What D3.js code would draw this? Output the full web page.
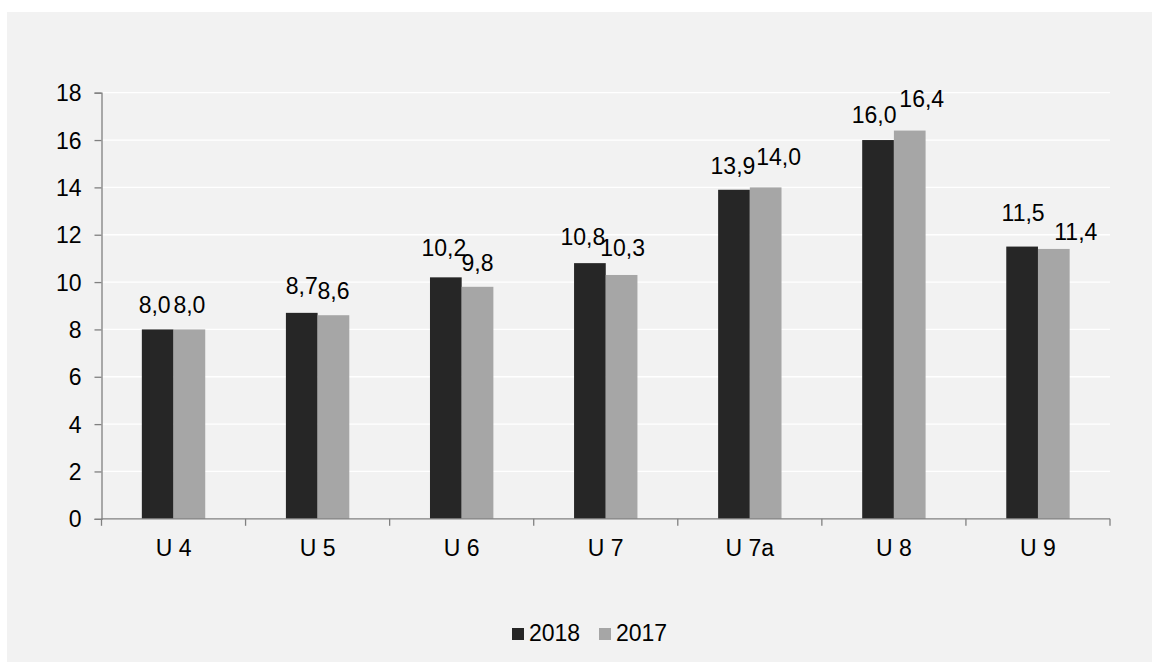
<!DOCTYPE html>
<html>
<head>
<meta charset="utf-8">
<script src="https://cdn.jsdelivr.net/npm/d3@7"></script>
<style>
  html, body { margin: 0; padding: 0; background: #ffffff; }
  svg { display: block; }
  text { font-family: "Liberation Sans", Arial, sans-serif; fill: #000; }
</style>
</head>
<body>
<script>
// Categories (school grades) and values per year
const categories = ["U 4", "U 5", "U 6", "U 7", "U 7a", "U 8", "U 9"];
const seriesNames = ["2018", "2017"];
const values2018 = [8.0, 8.7, 10.2, 10.8, 13.9, 16.0, 11.5];
const values2017 = [8.0, 8.6, 9.8, 10.3, 14.0, 16.4, 11.4];
const yTicks = [0, 2, 4, 6, 8, 10, 12, 14, 16, 18];

// Label nudges (px) so that neighbouring value labels do not collide
const labelNudge2018 = [[-3, 0], [0, -2.5], [-2, -5], [-7, -2], [-1, 0], [-4, -1], [1, -10]];
const labelNudge2017 = [[0, 0], [0, 0], [0, 0], [1, -3], [13, -6], [12, -8], [22, 7]];

const W = 1152, H = 662;
const plot = { left: 101.5, right: 1110, top: 92.7, bottom: 518.8 };
const colors = ["#262626", "#a6a6a6"];
const fontSize = 23;

const svg = d3.select("body").append("svg")
  .attr("width", W).attr("height", H);

// panel background
svg.append("rect").attr("x", 7).attr("y", 12)
  .attr("width", W - 7).attr("height", H - 12).attr("fill", "#f2f2f2");

const x = d3.scaleBand().domain(categories).range([plot.left, plot.right]).paddingInner(0).paddingOuter(0);
const barW = x.bandwidth() * 0.22;
const xs = d3.scaleBand().domain(seriesNames).range([x.bandwidth() / 2 - barW, x.bandwidth() / 2 + barW]);
const y = d3.scaleLinear().domain([0, 18]).range([plot.bottom, plot.top]);

// gridlines
svg.append("g").selectAll("line").data(yTicks.filter(t => t > 0)).join("line")
  .attr("x1", plot.left).attr("x2", plot.right)
  .attr("y1", d => y(d)).attr("y2", d => y(d))
  .attr("stroke", "#ffffff").attr("stroke-width", 1.3);

// bars
const series = [values2018, values2017];
const nudges = [labelNudge2018, labelNudge2017];
series.forEach((vals, si) => {
  const g = svg.append("g");
  g.selectAll("rect").data(vals).join("rect")
    .attr("x", (d, i) => x(categories[i]) + xs(seriesNames[si]))
    .attr("width", xs.bandwidth())
    .attr("y", d => y(d))
    .attr("height", d => y(0) - y(d))
    .attr("fill", colors[si]);
  g.selectAll("text").data(vals).join("text")
    .attr("x", (d, i) => x(categories[i]) + xs(seriesNames[si]) + xs.bandwidth() / 2 + nudges[si][i][0])
    .attr("y", (d, i) => y(d) - 16 + nudges[si][i][1])
    .attr("text-anchor", "middle")
    .attr("font-size", fontSize)
    .text(d => d.toFixed(1).replace(".", ","));
});

// y axis
const yAxis = d3.axisLeft(y).tickValues(yTicks).tickSize(7).tickPadding(13).tickFormat(d3.format("d"));
const gy = svg.append("g").attr("transform", `translate(${plot.left},0)`).call(yAxis);
gy.select(".domain").attr("stroke", "#808080").attr("stroke-width", 1.3);
gy.selectAll(".tick line").attr("stroke", "#808080").attr("stroke-width", 1.3);
gy.selectAll(".tick text").attr("font-size", fontSize).attr("font-family", "Liberation Sans, Arial, sans-serif").attr("fill", "#000").attr("dy", "0.35em");

// x axis: line with ticks at category boundaries
const gx = svg.append("g");
gx.append("line").attr("x1", plot.left).attr("x2", plot.right)
  .attr("y1", y(0)).attr("y2", y(0))
  .attr("stroke", "#808080").attr("stroke-width", 1.3);
const bounds = categories.map(c => x(c)).concat([plot.right]);
gx.selectAll("line.tk").data(bounds).join("line").attr("class", "tk")
  .attr("x1", d => d).attr("x2", d => d)
  .attr("y1", y(0)).attr("y2", y(0) + 7)
  .attr("stroke", "#808080").attr("stroke-width", 1.3);
gx.selectAll("text").data(categories).join("text")
  .attr("x", d => x(d) + x.bandwidth() / 2)
  .attr("y", 555.7)
  .attr("text-anchor", "middle")
  .attr("font-size", fontSize)
  .text(d => d);

// legend
const legend = svg.append("g");
const legendX = [512, 599];
seriesNames.forEach((name, i) => {
  legend.append("rect").attr("x", legendX[i]).attr("y", 628)
    .attr("width", 12).attr("height", 12).attr("fill", colors[i]);
  legend.append("text").attr("x", legendX[i] + 17).attr("y", 640.5)
    .attr("font-size", fontSize).text(name);
});
</script>
</body>
</html>
